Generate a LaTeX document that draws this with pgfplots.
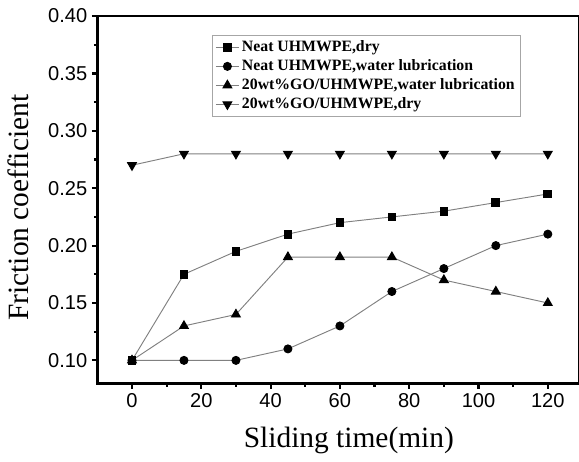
\documentclass[border=0pt]{standalone}
\usepackage{pgfplots}
\pgfplotsset{compat=1.18}
\usepackage{fontspec}
\setmainfont{Liberation Serif}
\newfontfamily\arial{Liberation Sans}
\begin{document}
\begin{tikzpicture}
\begin{axis}[
  name=ax,
  scale only axis,
  width=360pt, height=274.5pt,
  xmin=-10, xmax=129,
  ymin=0.08, ymax=0.40,
  xtick={0,20,...,120},
  ytick={0.10,0.15,...,0.40},
  minor x tick num=1,
  minor y tick num=1,
  tick pos=left,
  tick align=outside,
  major tick length=4pt,
  minor tick length=2.5pt,
  every tick/.style={black, line width=1.6pt},
  axis line style={line width=2pt},
  /pgf/number format/assume math mode=true,
  yticklabel style={/pgf/number format/fixed, /pgf/number format/fixed zerofill, /pgf/number format/precision=2},
  tick label style={font=\arial\fontsize{15}{18}\selectfont},
  xlabel={Sliding time(min)},
  ylabel={Friction coefficient},
  label style={font=\fontsize{22}{26}\selectfont},
  xlabel style={yshift=-8pt, xshift=8pt},
  ylabel style={yshift=8pt, xshift=-6pt},
  legend style={at={(0.239,0.948)}, anchor=north west, draw=gray!70, line width=0.6pt,
    font=\bfseries\fontsize{11.8}{14}\selectfont, row sep=0.5pt, inner sep=2pt},
  legend cell align=left,
  every axis plot/.append style={draw=gray, line width=0.7pt},
  clip=false,
]
\addplot[mark=square*, mark options={fill=black, draw=black, solid}, mark size=2.9pt] coordinates {
 (0,0.10) (15,0.175) (30,0.195) (45,0.21) (60,0.22) (75,0.225) (90,0.23) (105,0.2375) (120,0.245)};
\addlegendentry{Neat UHMWPE,dry}
\addplot[mark=*, mark options={fill=black, draw=black, solid}, mark size=3pt] coordinates {
 (0,0.10) (15,0.10) (30,0.10) (45,0.11) (60,0.13) (75,0.16) (90,0.18) (105,0.20) (120,0.21)};
\addlegendentry{Neat UHMWPE,water lubrication}
\addplot[mark=triangle*, mark options={fill=black, draw=black, solid}, mark size=3.8pt] coordinates {
 (0,0.10) (15,0.13) (30,0.14) (45,0.19) (60,0.19) (75,0.19) (90,0.17) (105,0.16) (120,0.15)};
\addlegendentry{20wt\%GO/UHMWPE,water lubrication}
\addplot[mark=triangle*, mark options={fill=black, draw=black, solid, rotate=180}, mark size=3.8pt] coordinates {
 (0,0.27) (15,0.28) (30,0.28) (45,0.28) (60,0.28) (75,0.28) (90,0.28) (105,0.28) (120,0.28)};
\addlegendentry{20wt\%GO/UHMWPE,dry}
\end{axis}
\pgfresetboundingbox
\path[use as bounding box] ([xshift=-72.75pt,yshift=-58.5pt]ax.south west) rectangle ([yshift=12pt]ax.north east);
\end{tikzpicture}
\end{document}
